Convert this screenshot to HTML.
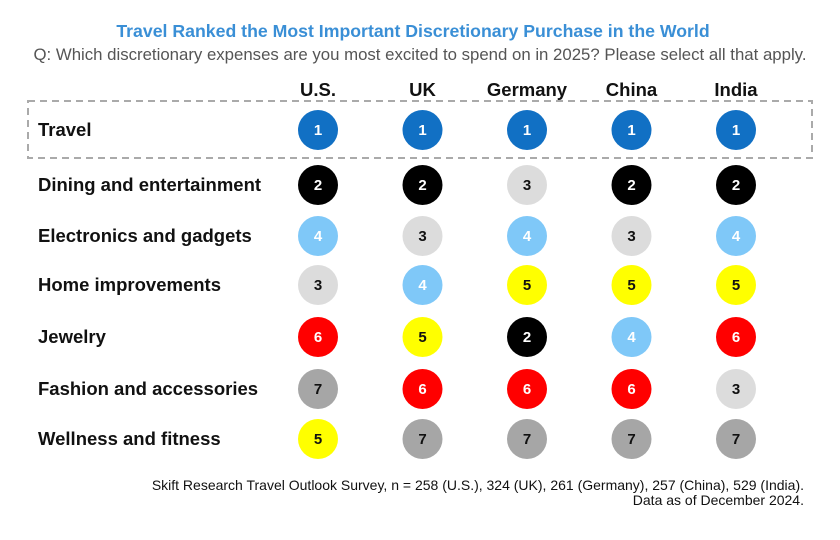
<!DOCTYPE html>
<html><head><meta charset="utf-8"><style>
body{margin:0;background:#fff;font-family:"Liberation Sans",sans-serif}
svg text{font-family:"Liberation Sans",sans-serif}
</style></head><body>
<svg width="840" height="535">
<text x="413" y="37" text-anchor="middle" font-size="17.7" font-weight="bold" fill="#3a8fd6">Travel Ranked the Most Important Discretionary Purchase in the World</text>
<text x="420" y="60" text-anchor="middle" font-size="16.8" fill="#555">Q: Which discretionary expenses are you most excited to spend on in 2025? Please select all that apply.</text>
<rect x="28" y="101" width="784" height="57" fill="none" stroke="#aaa" stroke-width="2" stroke-dasharray="7,5"/>
<g id="g"></g>
<text x="804" y="490" text-anchor="end" font-size="14" fill="#111">Skift Research Travel Outlook Survey, n = 258 (U.S.), 324 (UK), 261 (Germany), 257 (China), 529 (India).</text>
<text x="804" y="505" text-anchor="end" font-size="14" fill="#111">Data as of December 2024.</text>
</svg>
<script>
const countries=["U.S.","UK","Germany","China","India"];
const categories=["Travel","Dining and entertainment","Electronics and gadgets","Home improvements","Jewelry","Fashion and accessories","Wellness and fitness"];
const ranksUS=[1,2,4,3,6,7,5];
const ranksUK=[1,2,3,4,5,6,7];
const ranksGermany=[1,3,4,5,2,6,7];
const ranksChina=[1,2,3,5,4,6,7];
const ranksIndia=[1,2,4,5,6,3,7];
const ranks=[ranksUS,ranksUK,ranksGermany,ranksChina,ranksIndia];
const fill={1:"#1170c4",2:"#000",3:"#dcdcdc",4:"#7fc8f8",5:"#ffff00",6:"#ff0000",7:"#a6a6a6"};
const txt={1:"#fff",2:"#fff",3:"#111",4:"#fff",5:"#111",6:"#fff",7:"#111"};
const ns="http://www.w3.org/2000/svg",g=document.getElementById("g");
const xCol=i=>318+i*104.5;
const rowY=[130,185,236,285,337,389,439];
const yRow=j=>rowY[j];
function mk(t,a){const e=document.createElementNS(ns,t);for(const k in a)e.setAttribute(k,a[k]);g.appendChild(e);return e;}
countries.forEach((c,i)=>{const t=mk("text",{x:xCol(i),y:96,"text-anchor":"middle","font-size":18.5,"font-weight":"bold",fill:"#111"});t.textContent=c;

});
categories.forEach((c,j)=>{const t=mk("text",{x:38,y:yRow(j)+6,"font-size":18.5,"font-weight":"bold",fill:"#111"});t.textContent=c;

});
ranks.forEach((arr,i)=>arr.forEach((r,j)=>{
const ci=mk("circle",{cx:xCol(i),cy:yRow(j),r:20,fill:fill[r]});


const t=mk("text",{x:xCol(i),y:yRow(j)+5,"text-anchor":"middle","font-size":15,"font-weight":"bold",fill:txt[r]});t.textContent=r;


}));
</script>
</body></html>
